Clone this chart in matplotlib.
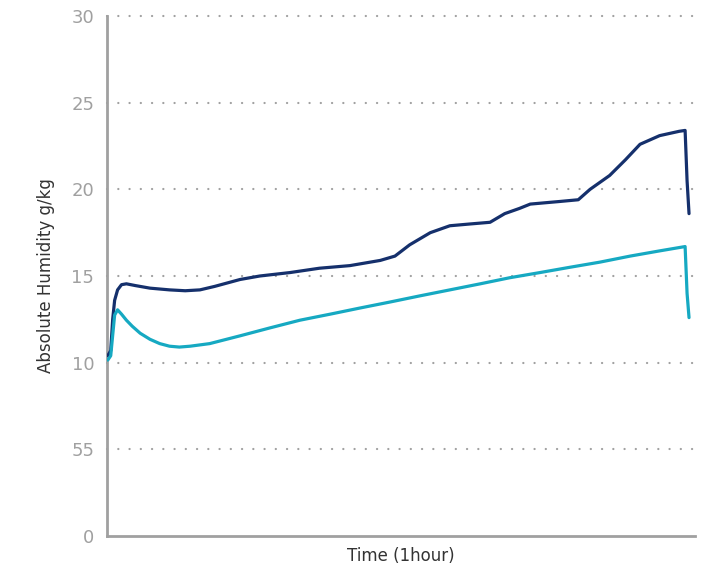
import matplotlib
matplotlib.use("Agg")
import matplotlib.pyplot as plt

plt.rcParams['font.family'] = ['DejaVu Sans']
plt.rcParams['lines.scale_dashes'] = False

# Time in minutes (x axis spans one hour)
dark_x = [0.1, 0.4, 0.6, 0.8, 1.1, 1.5, 2.0, 2.9, 4.4, 6.4, 8.0, 9.5, 11.0, 13.6, 15.6,
          18.7, 21.7, 24.8, 27.9, 29.4, 30.9, 33.0, 35.0, 37.0, 39.1, 40.6, 42.1, 43.2,
          46.2, 48.1, 49.3, 51.3, 52.9, 54.4, 56.4, 58.4, 59.0, 59.2, 59.4]
dark_y = [10.4, 10.7, 12.5, 13.6, 14.2, 14.5, 14.55, 14.45, 14.3, 14.2, 14.15, 14.2,
          14.4, 14.8, 15.0, 15.2, 15.45, 15.6, 15.9, 16.15, 16.8, 17.5, 17.9, 18.0,
          18.1, 18.6, 18.9, 19.15, 19.3, 19.4, 20.0, 20.8, 21.7, 22.6, 23.1, 23.35,
          23.4, 20.5, 18.6]

light_x = [0.1, 0.4, 0.8, 1.1, 1.5, 2.0, 2.6, 3.4, 4.4, 5.4, 6.4, 7.4, 8.5, 10.5, 13.6,
           16.6, 19.7, 22.8, 25.8, 28.9, 31.9, 35.0, 38.1, 41.1, 44.2, 47.2, 50.3,
           53.4, 56.4, 59.0, 59.2, 59.4]
light_y = [10.15, 10.4, 12.75, 13.05, 12.8, 12.45, 12.1, 11.7, 11.35, 11.1, 10.95,
           10.9, 10.95, 11.1, 11.55, 12.0, 12.45, 12.8, 13.15, 13.5, 13.85, 14.2,
           14.55, 14.9, 15.2, 15.5, 15.8, 16.15, 16.45, 16.7, 14.0, 12.6]

y_ticks = [0, 5, 10, 15, 20, 25, 30]
y_tick_labels = ["0", "55", "10", "15", "20", "25", "30"]

fig = plt.figure(figsize=(7.12, 5.73), dpi=100)
ax = fig.add_axes([0.150, 0.0646, 0.826, 0.9074])

ax.plot(dark_x, dark_y, color="#15306c", linewidth=2.3, solid_capstyle="round",
        solid_joinstyle="round", zorder=3)
ax.plot(light_x, light_y, color="#16a9c2", linewidth=2.3, solid_capstyle="round",
        solid_joinstyle="round", zorder=3)

ax.set_xlim(0, 60)
ax.set_ylim(0, 30)
ax.set_yticks(y_ticks)
ax.set_yticklabels(y_tick_labels)
ax.set_xticks([])
ax.tick_params(axis="y", length=0, pad=9, labelsize=13, labelcolor="#a0a0a0")

for v in y_ticks[1:]:
    ax.axhline(v, color="#a0a0a0", linewidth=1.6, linestyle=(0, (0.1, 8)),
               dash_capstyle="round", zorder=1, clip_on=False)

for s in ["top", "right"]:
    ax.spines[s].set_visible(False)
for s in ["left", "bottom"]:
    ax.spines[s].set_color("#a0a0a0")
    ax.spines[s].set_linewidth(2)

ax.set_xlabel("Time (1hour)", fontsize=12, color="#333333", labelpad=8)
ax.set_ylabel("Absolute Humidity g/kg", fontsize=12, color="#333333", labelpad=12)

fig.savefig("out.png", dpi=100)
